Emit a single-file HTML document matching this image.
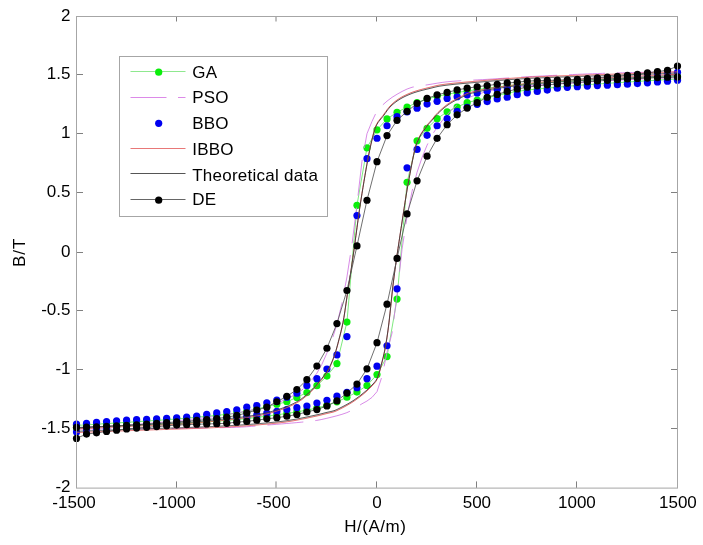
<!DOCTYPE html>
<html><head><meta charset="utf-8"><title>Hysteresis</title>
<style>html,body{margin:0;padding:0;background:#fff;}body{width:703px;height:545px;overflow:hidden;}svg{display:block;will-change:transform;}</style>
</head><body>
<svg width="703" height="545" viewBox="0 0 703 545"><rect x="0" y="0" width="703" height="545" fill="#fff"/><path d="M176.5,487.90v-6.5M176.5,16.50v5M276.0,487.90v-6.5M276.0,16.50v5M376.5,487.90v-6.5M376.5,16.50v5M476.5,487.90v-6.5M476.5,16.50v5M576.5,487.90v-6.5M576.5,16.50v5M76.5,74.5h6.5M677.5,74.5h-6.5M76.5,133.5h6.5M677.5,133.5h-6.5M76.5,192.5h6.5M677.5,192.5h-6.5M76.5,252.5h6.5M677.5,252.5h-6.5M76.5,310.5h6.5M677.5,310.5h-6.5M76.5,369.5h6.5M677.5,369.5h-6.5M76.5,428.5h6.5M677.5,428.5h-6.5" stroke="#808080" stroke-width="1" fill="none"/><path d="M677.50,76.60 L667.48,76.99 L657.47,77.38 L647.45,77.78 L637.43,78.19 L627.42,78.60 L617.40,78.99 L607.38,79.39 L597.37,79.80 L587.35,80.24 L577.33,80.73 L567.32,81.27 L557.30,81.87 L547.28,82.52 L537.27,83.23 L527.25,84.01 L517.23,84.85 L507.22,85.84 L497.20,86.99 L487.18,88.25 L477.17,89.57 L467.15,90.97 L457.13,92.51 L447.12,94.28 L437.10,96.40 L427.08,98.99 L417.07,102.53 L407.05,107.13 L397.03,112.31 L387.02,118.91 L377.00,129.87 L366.98,147.78 L356.97,205.30 L346.95,322.09 L336.93,363.57 L326.92,376.06 L316.90,385.72 L306.88,392.56 L296.87,397.39 L286.85,401.75 L276.83,404.23 L266.82,406.58 L256.80,408.96 L246.78,411.26 L236.77,413.07 L226.75,414.33 L216.73,415.37 L206.72,416.28 L196.70,417.19 L186.68,418.11 L176.67,418.96 L166.65,419.70 L156.63,420.40 L146.62,421.05 L136.60,421.69 L126.58,422.33 L116.57,422.97 L106.55,423.60 L96.53,424.22 L86.52,424.84 L76.50,425.44 L76.50,427.80 L86.52,427.41 L96.53,427.02 L106.55,426.62 L116.57,426.21 L126.58,425.80 L136.60,425.41 L146.62,425.01 L156.63,424.60 L166.65,424.16 L176.67,423.67 L186.68,423.13 L196.70,422.53 L206.72,421.88 L216.73,421.17 L226.75,420.39 L236.77,419.55 L246.78,418.56 L256.80,417.41 L266.82,416.15 L276.83,414.83 L286.85,413.43 L296.87,411.89 L306.88,410.12 L316.90,408.00 L326.92,405.40 L336.93,401.87 L346.95,397.27 L356.97,392.09 L366.98,385.49 L377.00,374.53 L387.02,356.62 L397.03,299.10 L407.05,182.31 L417.07,140.83 L427.08,128.34 L437.10,118.68 L447.12,111.84 L457.13,107.01 L467.15,102.65 L477.17,100.17 L487.18,97.82 L497.20,95.44 L507.22,93.14 L517.23,91.33 L527.25,90.07 L537.27,89.03 L547.28,88.12 L557.30,87.21 L567.32,86.29 L577.33,85.44 L587.35,84.70 L597.37,84.00 L607.38,83.35 L617.40,82.71 L627.42,82.07 L637.43,81.43 L647.45,80.80 L657.47,80.18 L667.48,79.56 L677.50,78.96" stroke="#5de35d" stroke-width="0.8" fill="none" stroke-linejoin="round" opacity="1"/><circle cx="677.50" cy="76.60" r="3.6" fill="#0aee0a"/><circle cx="667.48" cy="76.99" r="3.6" fill="#0aee0a"/><circle cx="657.47" cy="77.38" r="3.6" fill="#0aee0a"/><circle cx="647.45" cy="77.78" r="3.6" fill="#0aee0a"/><circle cx="637.43" cy="78.19" r="3.6" fill="#0aee0a"/><circle cx="627.42" cy="78.60" r="3.6" fill="#0aee0a"/><circle cx="617.40" cy="78.99" r="3.6" fill="#0aee0a"/><circle cx="607.38" cy="79.39" r="3.6" fill="#0aee0a"/><circle cx="597.37" cy="79.80" r="3.6" fill="#0aee0a"/><circle cx="587.35" cy="80.24" r="3.6" fill="#0aee0a"/><circle cx="577.33" cy="80.73" r="3.6" fill="#0aee0a"/><circle cx="567.32" cy="81.27" r="3.6" fill="#0aee0a"/><circle cx="557.30" cy="81.87" r="3.6" fill="#0aee0a"/><circle cx="547.28" cy="82.52" r="3.6" fill="#0aee0a"/><circle cx="537.27" cy="83.23" r="3.6" fill="#0aee0a"/><circle cx="527.25" cy="84.01" r="3.6" fill="#0aee0a"/><circle cx="517.23" cy="84.85" r="3.6" fill="#0aee0a"/><circle cx="507.22" cy="85.84" r="3.6" fill="#0aee0a"/><circle cx="497.20" cy="86.99" r="3.6" fill="#0aee0a"/><circle cx="487.18" cy="88.25" r="3.6" fill="#0aee0a"/><circle cx="477.17" cy="89.57" r="3.6" fill="#0aee0a"/><circle cx="467.15" cy="90.97" r="3.6" fill="#0aee0a"/><circle cx="457.13" cy="92.51" r="3.6" fill="#0aee0a"/><circle cx="447.12" cy="94.28" r="3.6" fill="#0aee0a"/><circle cx="437.10" cy="96.40" r="3.6" fill="#0aee0a"/><circle cx="427.08" cy="98.99" r="3.6" fill="#0aee0a"/><circle cx="417.07" cy="102.53" r="3.6" fill="#0aee0a"/><circle cx="407.05" cy="107.13" r="3.6" fill="#0aee0a"/><circle cx="397.03" cy="112.31" r="3.6" fill="#0aee0a"/><circle cx="387.02" cy="118.91" r="3.6" fill="#0aee0a"/><circle cx="377.00" cy="129.87" r="3.6" fill="#0aee0a"/><circle cx="366.98" cy="147.78" r="3.6" fill="#0aee0a"/><circle cx="356.97" cy="205.30" r="3.6" fill="#0aee0a"/><circle cx="346.95" cy="322.09" r="3.6" fill="#0aee0a"/><circle cx="336.93" cy="363.57" r="3.6" fill="#0aee0a"/><circle cx="326.92" cy="376.06" r="3.6" fill="#0aee0a"/><circle cx="316.90" cy="385.72" r="3.6" fill="#0aee0a"/><circle cx="306.88" cy="392.56" r="3.6" fill="#0aee0a"/><circle cx="296.87" cy="397.39" r="3.6" fill="#0aee0a"/><circle cx="286.85" cy="401.75" r="3.6" fill="#0aee0a"/><circle cx="276.83" cy="404.23" r="3.6" fill="#0aee0a"/><circle cx="266.82" cy="406.58" r="3.6" fill="#0aee0a"/><circle cx="256.80" cy="408.96" r="3.6" fill="#0aee0a"/><circle cx="246.78" cy="411.26" r="3.6" fill="#0aee0a"/><circle cx="236.77" cy="413.07" r="3.6" fill="#0aee0a"/><circle cx="226.75" cy="414.33" r="3.6" fill="#0aee0a"/><circle cx="216.73" cy="415.37" r="3.6" fill="#0aee0a"/><circle cx="206.72" cy="416.28" r="3.6" fill="#0aee0a"/><circle cx="196.70" cy="417.19" r="3.6" fill="#0aee0a"/><circle cx="186.68" cy="418.11" r="3.6" fill="#0aee0a"/><circle cx="176.67" cy="418.96" r="3.6" fill="#0aee0a"/><circle cx="166.65" cy="419.70" r="3.6" fill="#0aee0a"/><circle cx="156.63" cy="420.40" r="3.6" fill="#0aee0a"/><circle cx="146.62" cy="421.05" r="3.6" fill="#0aee0a"/><circle cx="136.60" cy="421.69" r="3.6" fill="#0aee0a"/><circle cx="126.58" cy="422.33" r="3.6" fill="#0aee0a"/><circle cx="116.57" cy="422.97" r="3.6" fill="#0aee0a"/><circle cx="106.55" cy="423.60" r="3.6" fill="#0aee0a"/><circle cx="96.53" cy="424.22" r="3.6" fill="#0aee0a"/><circle cx="86.52" cy="424.84" r="3.6" fill="#0aee0a"/><circle cx="76.50" cy="425.44" r="3.6" fill="#0aee0a"/><circle cx="76.50" cy="427.80" r="3.6" fill="#0aee0a"/><circle cx="86.52" cy="427.41" r="3.6" fill="#0aee0a"/><circle cx="96.53" cy="427.02" r="3.6" fill="#0aee0a"/><circle cx="106.55" cy="426.62" r="3.6" fill="#0aee0a"/><circle cx="116.57" cy="426.21" r="3.6" fill="#0aee0a"/><circle cx="126.58" cy="425.80" r="3.6" fill="#0aee0a"/><circle cx="136.60" cy="425.41" r="3.6" fill="#0aee0a"/><circle cx="146.62" cy="425.01" r="3.6" fill="#0aee0a"/><circle cx="156.63" cy="424.60" r="3.6" fill="#0aee0a"/><circle cx="166.65" cy="424.16" r="3.6" fill="#0aee0a"/><circle cx="176.67" cy="423.67" r="3.6" fill="#0aee0a"/><circle cx="186.68" cy="423.13" r="3.6" fill="#0aee0a"/><circle cx="196.70" cy="422.53" r="3.6" fill="#0aee0a"/><circle cx="206.72" cy="421.88" r="3.6" fill="#0aee0a"/><circle cx="216.73" cy="421.17" r="3.6" fill="#0aee0a"/><circle cx="226.75" cy="420.39" r="3.6" fill="#0aee0a"/><circle cx="236.77" cy="419.55" r="3.6" fill="#0aee0a"/><circle cx="246.78" cy="418.56" r="3.6" fill="#0aee0a"/><circle cx="256.80" cy="417.41" r="3.6" fill="#0aee0a"/><circle cx="266.82" cy="416.15" r="3.6" fill="#0aee0a"/><circle cx="276.83" cy="414.83" r="3.6" fill="#0aee0a"/><circle cx="286.85" cy="413.43" r="3.6" fill="#0aee0a"/><circle cx="296.87" cy="411.89" r="3.6" fill="#0aee0a"/><circle cx="306.88" cy="410.12" r="3.6" fill="#0aee0a"/><circle cx="316.90" cy="408.00" r="3.6" fill="#0aee0a"/><circle cx="326.92" cy="405.40" r="3.6" fill="#0aee0a"/><circle cx="336.93" cy="401.87" r="3.6" fill="#0aee0a"/><circle cx="346.95" cy="397.27" r="3.6" fill="#0aee0a"/><circle cx="356.97" cy="392.09" r="3.6" fill="#0aee0a"/><circle cx="366.98" cy="385.49" r="3.6" fill="#0aee0a"/><circle cx="377.00" cy="374.53" r="3.6" fill="#0aee0a"/><circle cx="387.02" cy="356.62" r="3.6" fill="#0aee0a"/><circle cx="397.03" cy="299.10" r="3.6" fill="#0aee0a"/><circle cx="407.05" cy="182.31" r="3.6" fill="#0aee0a"/><circle cx="417.07" cy="140.83" r="3.6" fill="#0aee0a"/><circle cx="427.08" cy="128.34" r="3.6" fill="#0aee0a"/><circle cx="437.10" cy="118.68" r="3.6" fill="#0aee0a"/><circle cx="447.12" cy="111.84" r="3.6" fill="#0aee0a"/><circle cx="457.13" cy="107.01" r="3.6" fill="#0aee0a"/><circle cx="467.15" cy="102.65" r="3.6" fill="#0aee0a"/><circle cx="477.17" cy="100.17" r="3.6" fill="#0aee0a"/><circle cx="487.18" cy="97.82" r="3.6" fill="#0aee0a"/><circle cx="497.20" cy="95.44" r="3.6" fill="#0aee0a"/><circle cx="507.22" cy="93.14" r="3.6" fill="#0aee0a"/><circle cx="517.23" cy="91.33" r="3.6" fill="#0aee0a"/><circle cx="527.25" cy="90.07" r="3.6" fill="#0aee0a"/><circle cx="537.27" cy="89.03" r="3.6" fill="#0aee0a"/><circle cx="547.28" cy="88.12" r="3.6" fill="#0aee0a"/><circle cx="557.30" cy="87.21" r="3.6" fill="#0aee0a"/><circle cx="567.32" cy="86.29" r="3.6" fill="#0aee0a"/><circle cx="577.33" cy="85.44" r="3.6" fill="#0aee0a"/><circle cx="587.35" cy="84.70" r="3.6" fill="#0aee0a"/><circle cx="597.37" cy="84.00" r="3.6" fill="#0aee0a"/><circle cx="607.38" cy="83.35" r="3.6" fill="#0aee0a"/><circle cx="617.40" cy="82.71" r="3.6" fill="#0aee0a"/><circle cx="627.42" cy="82.07" r="3.6" fill="#0aee0a"/><circle cx="637.43" cy="81.43" r="3.6" fill="#0aee0a"/><circle cx="647.45" cy="80.80" r="3.6" fill="#0aee0a"/><circle cx="657.47" cy="80.18" r="3.6" fill="#0aee0a"/><circle cx="667.48" cy="79.56" r="3.6" fill="#0aee0a"/><circle cx="677.50" cy="78.96" r="3.6" fill="#0aee0a"/><path stroke-dashoffset="23.6" d="M677.50,71.89 L672.49,71.93 L667.48,71.98 L662.48,72.04 L657.47,72.11 L652.46,72.18 L647.45,72.26 L642.44,72.35 L637.43,72.45 L632.42,72.55 L627.42,72.65 L622.41,72.77 L617.40,72.90 L612.39,73.04 L607.38,73.20 L602.38,73.36 L597.37,73.54 L592.36,73.73 L587.35,73.92 L582.34,74.13 L577.33,74.34 L572.33,74.56 L567.32,74.78 L562.31,75.02 L557.30,75.25 L552.29,75.49 L547.28,75.74 L542.27,75.99 L537.27,76.24 L532.26,76.49 L527.25,76.75 L522.24,77.04 L517.23,77.35 L512.23,77.67 L507.22,78.01 L502.21,78.35 L497.20,78.69 L492.19,79.03 L487.18,79.35 L482.18,79.64 L477.17,79.90 L472.16,80.15 L467.15,80.40 L462.14,80.67 L457.13,80.98 L452.12,81.34 L447.12,81.79 L442.11,82.43 L437.10,83.21 L432.09,84.05 L427.08,84.87 L422.07,85.58 L417.07,86.27 L412.06,87.27 L407.05,89.04 L402.04,91.46 L397.03,94.28 L392.02,97.37 L387.02,101.14 L382.01,105.57 L377.00,110.89 L371.99,121.44 L366.98,133.72 L361.98,161.19 L356.97,204.71 L351.96,244.49 L346.95,276.94 L341.94,303.30 L336.93,324.32 L331.93,340.12 L326.92,353.09 L321.91,364.29 L316.90,373.20 L311.89,379.80 L306.88,385.46 L301.88,390.10 L296.87,393.62 L291.86,396.40 L286.85,398.89 L281.84,401.11 L276.83,403.09 L271.82,404.84 L266.82,406.39 L261.81,407.75 L256.80,408.94 L251.79,410.03 L246.78,411.05 L241.78,412.02 L236.77,412.94 L231.76,413.80 L226.75,414.61 L221.74,415.38 L216.73,416.10 L211.72,416.79 L206.72,417.44 L201.71,418.05 L196.70,418.63 L191.69,419.19 L186.68,419.72 L181.68,420.23 L176.67,420.73 L171.66,421.21 L166.65,421.68 L161.64,422.15 L156.63,422.61 L151.62,423.06 L146.62,423.50 L141.61,423.93 L136.60,424.34 L131.59,424.74 L126.58,425.12 L121.58,425.48 L116.57,425.83 L111.56,426.16 L106.55,426.47 L101.54,426.75 L96.53,427.01 L91.53,427.25 L86.52,427.46 L81.51,427.64 L76.50,427.80" stroke="#d47ee4" stroke-width="0.9" fill="none" stroke-linejoin="round" stroke-dasharray="36 12" opacity="1"/><path stroke-dashoffset="0.93" d="M76.50,428.97 L81.51,428.97 L86.52,428.97 L91.53,428.96 L96.53,428.95 L101.54,428.94 L106.55,428.92 L111.56,428.90 L116.57,428.88 L121.58,428.86 L126.58,428.83 L131.59,428.79 L136.60,428.76 L141.61,428.72 L146.62,428.68 L151.62,428.64 L156.63,428.59 L161.64,428.54 L166.65,428.48 L171.66,428.43 L176.67,428.36 L181.68,428.30 L186.68,428.23 L191.69,428.16 L196.70,428.09 L201.71,428.01 L206.72,427.93 L211.72,427.84 L216.73,427.75 L221.74,427.66 L226.75,427.56 L231.76,427.46 L236.77,427.32 L241.78,427.07 L246.78,426.74 L251.79,426.35 L256.80,425.93 L261.81,425.49 L266.82,425.08 L271.82,424.69 L276.83,424.30 L281.84,423.90 L286.85,423.48 L291.86,423.05 L296.87,422.60 L301.88,422.12 L306.88,421.62 L311.89,421.08 L316.90,420.39 L321.91,419.43 L326.92,418.28 L331.93,417.05 L336.93,415.77 L341.94,414.34 L346.95,412.62 L351.96,410.31 L356.97,406.95 L361.98,403.79 L366.98,401.04 L371.99,397.40 L377.00,391.65 L382.01,376.37 L387.02,352.37 L392.02,333.09 L397.03,295.03 L402.04,249.31 L407.05,216.77 L412.06,191.33 L417.07,172.27 L422.07,157.42 L427.08,145.16 L432.09,135.00 L437.10,127.29 L442.11,120.82 L447.12,114.84 L452.12,109.35 L457.13,104.89 L462.14,101.37 L467.15,98.45 L472.16,96.26 L477.17,94.47 L482.18,92.89 L487.18,91.54 L492.19,90.43 L497.20,89.57 L502.21,88.86 L507.22,88.21 L512.23,87.61 L517.23,87.05 L522.24,86.54 L527.25,86.06 L532.26,85.61 L537.27,85.19 L542.27,84.80 L547.28,84.44 L552.29,84.09 L557.30,83.75 L562.31,83.43 L567.32,83.12 L572.33,82.81 L577.33,82.50 L582.34,82.19 L587.35,81.88 L592.36,81.58 L597.37,81.29 L602.38,81.00 L607.38,80.72 L612.39,80.44 L617.40,80.17 L622.41,79.91 L627.42,79.66 L632.42,79.42 L637.43,79.19 L642.44,78.97 L647.45,78.76 L652.46,78.57 L657.47,78.38 L662.48,78.21 L667.48,78.05 L672.49,77.91 L677.50,77.78" stroke="#d47ee4" stroke-width="0.9" fill="none" stroke-linejoin="round" stroke-dasharray="36 12" opacity="1"/><circle cx="677.50" cy="72.36" r="3.6" fill="#0000f0"/><circle cx="667.48" cy="73.57" r="3.6" fill="#0000f0"/><circle cx="657.47" cy="74.73" r="3.6" fill="#0000f0"/><circle cx="647.45" cy="75.85" r="3.6" fill="#0000f0"/><circle cx="637.43" cy="76.93" r="3.6" fill="#0000f0"/><circle cx="627.42" cy="77.97" r="3.6" fill="#0000f0"/><circle cx="617.40" cy="78.96" r="3.6" fill="#0000f0"/><circle cx="607.38" cy="79.91" r="3.6" fill="#0000f0"/><circle cx="597.37" cy="80.81" r="3.6" fill="#0000f0"/><circle cx="587.35" cy="81.67" r="3.6" fill="#0000f0"/><circle cx="577.33" cy="82.50" r="3.6" fill="#0000f0"/><circle cx="567.32" cy="83.27" r="3.6" fill="#0000f0"/><circle cx="557.30" cy="83.99" r="3.6" fill="#0000f0"/><circle cx="547.28" cy="84.70" r="3.6" fill="#0000f0"/><circle cx="537.27" cy="85.44" r="3.6" fill="#0000f0"/><circle cx="527.25" cy="86.14" r="3.6" fill="#0000f0"/><circle cx="517.23" cy="86.85" r="3.6" fill="#0000f0"/><circle cx="507.22" cy="87.80" r="3.6" fill="#0000f0"/><circle cx="497.20" cy="89.45" r="3.6" fill="#0000f0"/><circle cx="487.18" cy="91.22" r="3.6" fill="#0000f0"/><circle cx="477.17" cy="92.98" r="3.6" fill="#0000f0"/><circle cx="467.15" cy="94.87" r="3.6" fill="#0000f0"/><circle cx="457.13" cy="96.76" r="3.6" fill="#0000f0"/><circle cx="447.12" cy="98.41" r="3.6" fill="#0000f0"/><circle cx="437.10" cy="101.35" r="3.6" fill="#0000f0"/><circle cx="427.08" cy="104.06" r="3.6" fill="#0000f0"/><circle cx="417.07" cy="108.19" r="3.6" fill="#0000f0"/><circle cx="407.05" cy="111.97" r="3.6" fill="#0000f0"/><circle cx="397.03" cy="116.67" r="3.6" fill="#0000f0"/><circle cx="387.02" cy="125.75" r="3.6" fill="#0000f0"/><circle cx="377.00" cy="138.24" r="3.6" fill="#0000f0"/><circle cx="366.98" cy="158.63" r="3.6" fill="#0000f0"/><circle cx="356.97" cy="215.55" r="3.6" fill="#0000f0"/><circle cx="346.95" cy="336.58" r="3.6" fill="#0000f0"/><circle cx="336.93" cy="354.97" r="3.6" fill="#0000f0"/><circle cx="326.92" cy="369.11" r="3.6" fill="#0000f0"/><circle cx="316.90" cy="378.65" r="3.6" fill="#0000f0"/><circle cx="306.88" cy="385.72" r="3.6" fill="#0000f0"/><circle cx="296.87" cy="393.15" r="3.6" fill="#0000f0"/><circle cx="286.85" cy="397.16" r="3.6" fill="#0000f0"/><circle cx="276.83" cy="400.10" r="3.6" fill="#0000f0"/><circle cx="266.82" cy="402.81" r="3.6" fill="#0000f0"/><circle cx="256.80" cy="405.52" r="3.6" fill="#0000f0"/><circle cx="246.78" cy="407.17" r="3.6" fill="#0000f0"/><circle cx="236.77" cy="409.77" r="3.6" fill="#0000f0"/><circle cx="226.75" cy="411.53" r="3.6" fill="#0000f0"/><circle cx="216.73" cy="412.95" r="3.6" fill="#0000f0"/><circle cx="206.72" cy="414.36" r="3.6" fill="#0000f0"/><circle cx="196.70" cy="416.13" r="3.6" fill="#0000f0"/><circle cx="186.68" cy="417.03" r="3.6" fill="#0000f0"/><circle cx="176.67" cy="417.75" r="3.6" fill="#0000f0"/><circle cx="166.65" cy="418.32" r="3.6" fill="#0000f0"/><circle cx="156.63" cy="418.80" r="3.6" fill="#0000f0"/><circle cx="146.62" cy="419.25" r="3.6" fill="#0000f0"/><circle cx="136.60" cy="419.70" r="3.6" fill="#0000f0"/><circle cx="126.58" cy="420.22" r="3.6" fill="#0000f0"/><circle cx="116.57" cy="420.84" r="3.6" fill="#0000f0"/><circle cx="106.55" cy="421.58" r="3.6" fill="#0000f0"/><circle cx="96.53" cy="422.39" r="3.6" fill="#0000f0"/><circle cx="86.52" cy="423.25" r="3.6" fill="#0000f0"/><circle cx="76.50" cy="424.14" r="3.6" fill="#0000f0"/><circle cx="76.50" cy="432.04" r="3.6" fill="#0000f0"/><circle cx="86.52" cy="430.83" r="3.6" fill="#0000f0"/><circle cx="96.53" cy="429.67" r="3.6" fill="#0000f0"/><circle cx="106.55" cy="428.55" r="3.6" fill="#0000f0"/><circle cx="116.57" cy="427.47" r="3.6" fill="#0000f0"/><circle cx="126.58" cy="426.43" r="3.6" fill="#0000f0"/><circle cx="136.60" cy="425.44" r="3.6" fill="#0000f0"/><circle cx="146.62" cy="424.49" r="3.6" fill="#0000f0"/><circle cx="156.63" cy="423.59" r="3.6" fill="#0000f0"/><circle cx="166.65" cy="422.73" r="3.6" fill="#0000f0"/><circle cx="176.67" cy="421.90" r="3.6" fill="#0000f0"/><circle cx="186.68" cy="421.13" r="3.6" fill="#0000f0"/><circle cx="196.70" cy="420.41" r="3.6" fill="#0000f0"/><circle cx="206.72" cy="419.70" r="3.6" fill="#0000f0"/><circle cx="216.73" cy="418.96" r="3.6" fill="#0000f0"/><circle cx="226.75" cy="418.26" r="3.6" fill="#0000f0"/><circle cx="236.77" cy="417.55" r="3.6" fill="#0000f0"/><circle cx="246.78" cy="416.60" r="3.6" fill="#0000f0"/><circle cx="256.80" cy="414.95" r="3.6" fill="#0000f0"/><circle cx="266.82" cy="413.18" r="3.6" fill="#0000f0"/><circle cx="276.83" cy="411.42" r="3.6" fill="#0000f0"/><circle cx="286.85" cy="409.53" r="3.6" fill="#0000f0"/><circle cx="296.87" cy="407.64" r="3.6" fill="#0000f0"/><circle cx="306.88" cy="405.99" r="3.6" fill="#0000f0"/><circle cx="316.90" cy="403.05" r="3.6" fill="#0000f0"/><circle cx="326.92" cy="400.34" r="3.6" fill="#0000f0"/><circle cx="336.93" cy="396.21" r="3.6" fill="#0000f0"/><circle cx="346.95" cy="392.43" r="3.6" fill="#0000f0"/><circle cx="356.97" cy="387.73" r="3.6" fill="#0000f0"/><circle cx="366.98" cy="378.65" r="3.6" fill="#0000f0"/><circle cx="377.00" cy="366.16" r="3.6" fill="#0000f0"/><circle cx="387.02" cy="345.77" r="3.6" fill="#0000f0"/><circle cx="397.03" cy="288.85" r="3.6" fill="#0000f0"/><circle cx="407.05" cy="167.82" r="3.6" fill="#0000f0"/><circle cx="417.07" cy="149.43" r="3.6" fill="#0000f0"/><circle cx="427.08" cy="135.29" r="3.6" fill="#0000f0"/><circle cx="437.10" cy="125.75" r="3.6" fill="#0000f0"/><circle cx="447.12" cy="118.68" r="3.6" fill="#0000f0"/><circle cx="457.13" cy="111.25" r="3.6" fill="#0000f0"/><circle cx="467.15" cy="107.24" r="3.6" fill="#0000f0"/><circle cx="477.17" cy="104.30" r="3.6" fill="#0000f0"/><circle cx="487.18" cy="101.59" r="3.6" fill="#0000f0"/><circle cx="497.20" cy="98.88" r="3.6" fill="#0000f0"/><circle cx="507.22" cy="97.23" r="3.6" fill="#0000f0"/><circle cx="517.23" cy="94.63" r="3.6" fill="#0000f0"/><circle cx="527.25" cy="92.87" r="3.6" fill="#0000f0"/><circle cx="537.27" cy="91.45" r="3.6" fill="#0000f0"/><circle cx="547.28" cy="90.04" r="3.6" fill="#0000f0"/><circle cx="557.30" cy="88.27" r="3.6" fill="#0000f0"/><circle cx="567.32" cy="87.37" r="3.6" fill="#0000f0"/><circle cx="577.33" cy="86.65" r="3.6" fill="#0000f0"/><circle cx="587.35" cy="86.08" r="3.6" fill="#0000f0"/><circle cx="597.37" cy="85.60" r="3.6" fill="#0000f0"/><circle cx="607.38" cy="85.15" r="3.6" fill="#0000f0"/><circle cx="617.40" cy="84.70" r="3.6" fill="#0000f0"/><circle cx="627.42" cy="84.18" r="3.6" fill="#0000f0"/><circle cx="637.43" cy="83.56" r="3.6" fill="#0000f0"/><circle cx="647.45" cy="82.82" r="3.6" fill="#0000f0"/><circle cx="657.47" cy="82.01" r="3.6" fill="#0000f0"/><circle cx="667.48" cy="81.15" r="3.6" fill="#0000f0"/><circle cx="677.50" cy="80.26" r="3.6" fill="#0000f0"/><path d="M677.50,71.81 L676.50,71.85 L675.50,71.89 L674.50,71.93 L673.49,71.97 L672.49,72.00 L671.49,72.04 L670.49,72.08 L669.49,72.12 L668.49,72.16 L667.48,72.19 L666.48,72.23 L665.48,72.27 L664.48,72.31 L663.48,72.35 L662.48,72.38 L661.47,72.42 L660.47,72.46 L659.47,72.50 L658.47,72.54 L657.47,72.57 L656.47,72.61 L655.46,72.65 L654.46,72.69 L653.46,72.72 L652.46,72.76 L651.46,72.80 L650.46,72.84 L649.45,72.87 L648.45,72.91 L647.45,72.95 L646.45,72.99 L645.45,73.02 L644.45,73.06 L643.44,73.10 L642.44,73.14 L641.44,73.17 L640.44,73.21 L639.44,73.25 L638.43,73.28 L637.43,73.32 L636.43,73.36 L635.43,73.40 L634.43,73.43 L633.43,73.47 L632.42,73.51 L631.42,73.54 L630.42,73.58 L629.42,73.62 L628.42,73.65 L627.42,73.69 L626.41,73.72 L625.41,73.76 L624.41,73.79 L623.41,73.83 L622.41,73.86 L621.41,73.90 L620.40,73.93 L619.40,73.97 L618.40,74.00 L617.40,74.03 L616.40,74.07 L615.40,74.10 L614.39,74.13 L613.39,74.16 L612.39,74.20 L611.39,74.23 L610.39,74.26 L609.39,74.29 L608.38,74.33 L607.38,74.36 L606.38,74.39 L605.38,74.42 L604.38,74.45 L603.38,74.48 L602.38,74.51 L601.37,74.54 L600.37,74.58 L599.37,74.61 L598.37,74.64 L597.37,74.67 L596.37,74.70 L595.36,74.73 L594.36,74.76 L593.36,74.79 L592.36,74.82 L591.36,74.85 L590.36,74.88 L589.35,74.92 L588.35,74.95 L587.35,74.98 L586.35,75.01 L585.35,75.04 L584.35,75.07 L583.34,75.10 L582.34,75.13 L581.34,75.16 L580.34,75.20 L579.34,75.23 L578.34,75.26 L577.33,75.29 L576.33,75.32 L575.33,75.36 L574.33,75.39 L573.33,75.42 L572.33,75.46 L571.32,75.49 L570.32,75.52 L569.32,75.56 L568.32,75.59 L567.32,75.62 L566.32,75.66 L565.31,75.69 L564.31,75.73 L563.31,75.76 L562.31,75.80 L561.31,75.83 L560.31,75.87 L559.30,75.91 L558.30,75.94 L557.30,75.98 L556.30,76.02 L555.30,76.06 L554.30,76.09 L553.29,76.13 L552.29,76.17 L551.29,76.21 L550.29,76.25 L549.29,76.29 L548.29,76.33 L547.28,76.37 L546.28,76.41 L545.28,76.46 L544.28,76.50 L543.28,76.54 L542.27,76.58 L541.27,76.63 L540.27,76.67 L539.27,76.72 L538.27,76.76 L537.27,76.81 L536.26,76.85 L535.26,76.90 L534.26,76.95 L533.26,77.00 L532.26,77.05 L531.26,77.09 L530.25,77.14 L529.25,77.20 L528.25,77.25 L527.25,77.30 L526.25,77.35 L525.25,77.41 L524.25,77.47 L523.24,77.53 L522.24,77.59 L521.24,77.65 L520.24,77.71 L519.24,77.77 L518.24,77.84 L517.23,77.90 L516.23,77.97 L515.23,78.03 L514.23,78.10 L513.23,78.17 L512.23,78.24 L511.22,78.31 L510.22,78.39 L509.22,78.46 L508.22,78.53 L507.22,78.61 L506.21,78.68 L505.21,78.76 L504.21,78.84 L503.21,78.91 L502.21,78.99 L501.21,79.07 L500.20,79.15 L499.20,79.23 L498.20,79.31 L497.20,79.39 L496.20,79.48 L495.20,79.56 L494.19,79.64 L493.19,79.73 L492.19,79.81 L491.19,79.90 L490.19,79.98 L489.19,80.07 L488.19,80.15 L487.18,80.24 L486.18,80.32 L485.18,80.41 L484.18,80.50 L483.18,80.59 L482.18,80.67 L481.17,80.76 L480.17,80.85 L479.17,80.94 L478.17,81.03 L477.17,81.11 L476.17,81.20 L475.16,81.29 L474.16,81.38 L473.16,81.47 L472.16,81.55 L471.16,81.64 L470.15,81.72 L469.15,81.81 L468.15,81.89 L467.15,81.98 L466.15,82.06 L465.15,82.15 L464.14,82.23 L463.14,82.32 L462.14,82.41 L461.14,82.50 L460.14,82.59 L459.14,82.68 L458.13,82.77 L457.13,82.87 L456.13,82.97 L455.13,83.07 L454.13,83.17 L453.13,83.27 L452.12,83.38 L451.12,83.49 L450.12,83.60 L449.12,83.72 L448.12,83.84 L447.12,83.96 L446.12,84.08 L445.11,84.21 L444.11,84.35 L443.11,84.49 L442.11,84.63 L441.11,84.78 L440.11,84.93 L439.10,85.11 L438.10,85.30 L437.10,85.51 L436.10,85.74 L435.10,85.98 L434.10,86.23 L433.09,86.48 L432.09,86.74 L431.09,86.99 L430.09,87.24 L429.09,87.49 L428.08,87.73 L427.08,87.98 L426.08,88.23 L425.08,88.48 L424.08,88.73 L423.08,88.99 L422.07,89.25 L421.07,89.52 L420.07,89.79 L419.07,90.07 L418.07,90.36 L417.07,90.66 L416.06,90.96 L415.06,91.28 L414.06,91.61 L413.06,91.96 L412.06,92.33 L411.06,92.71 L410.06,93.11 L409.05,93.53 L408.05,93.96 L407.05,94.40 L406.05,94.86 L405.05,95.33 L404.05,95.83 L403.04,96.34 L402.04,96.88 L401.04,97.45 L400.04,98.04 L399.04,98.67 L398.04,99.33 L397.03,100.02 L396.03,100.74 L395.03,101.51 L394.03,102.32 L393.03,103.17 L392.02,104.06 L391.02,105.01 L390.02,106.02 L389.02,107.18 L388.02,108.45 L387.02,109.81 L386.01,111.22 L385.01,112.65 L384.01,114.06 L383.01,115.43 L382.01,116.68 L381.01,117.87 L380.00,119.07 L379.00,120.34 L378.00,121.77 L377.00,123.41 L376.00,125.34 L375.00,127.91 L374.00,131.27 L372.99,135.13 L371.99,139.22 L370.99,143.51 L369.99,148.12 L368.99,153.04 L367.99,158.23 L366.98,163.66 L365.98,169.31 L364.98,175.13 L363.98,181.10 L362.98,187.20 L361.98,193.38 L360.97,199.63 L359.97,206.13 L358.97,213.04 L357.97,220.26 L356.97,227.67 L355.96,235.18 L354.96,242.68 L353.96,250.07 L352.96,257.25 L351.96,264.14 L350.96,270.89 L349.95,277.53 L348.95,284.13 L347.95,290.70 L346.95,297.30 L345.95,304.17 L344.95,311.16 L343.94,317.64 L342.94,323.08 L341.94,327.81 L340.94,332.10 L339.94,336.12 L338.94,340.02 L337.94,343.91 L336.93,347.70 L335.93,351.28 L334.93,354.51 L333.93,357.36 L332.93,360.03 L331.93,362.54 L330.92,364.89 L329.92,367.06 L328.92,369.06 L327.92,370.87 L326.92,372.51 L325.91,373.99 L324.91,375.36 L323.91,376.65 L322.91,377.91 L321.91,379.18 L320.91,380.47 L319.90,381.74 L318.90,383.01 L317.90,384.25 L316.90,385.46 L315.90,386.63 L314.90,387.77 L313.89,388.84 L312.89,389.86 L311.89,390.84 L310.89,391.81 L309.89,392.76 L308.89,393.70 L307.88,394.61 L306.88,395.51 L305.88,396.37 L304.88,397.22 L303.88,398.03 L302.88,398.82 L301.88,399.57 L300.87,400.28 L299.87,400.96 L298.87,401.61 L297.87,402.21 L296.87,402.77 L295.87,403.33 L294.86,403.86 L293.86,404.38 L292.86,404.88 L291.86,405.36 L290.86,405.83 L289.86,406.28 L288.85,406.72 L287.85,407.15 L286.85,407.56 L285.85,407.96 L284.85,408.34 L283.85,408.72 L282.84,409.08 L281.84,409.43 L280.84,409.77 L279.84,410.10 L278.84,410.43 L277.84,410.74 L276.83,411.06 L275.83,411.36 L274.83,411.66 L273.83,411.96 L272.83,412.25 L271.82,412.53 L270.82,412.81 L269.82,413.07 L268.82,413.34 L267.82,413.60 L266.82,413.85 L265.81,414.09 L264.81,414.33 L263.81,414.56 L262.81,414.78 L261.81,415.00 L260.81,415.21 L259.81,415.41 L258.80,415.60 L257.80,415.79 L256.80,415.97 L255.80,416.15 L254.80,416.32 L253.79,416.49 L252.79,416.65 L251.79,416.81 L250.79,416.97 L249.79,417.12 L248.79,417.28 L247.78,417.43 L246.78,417.57 L245.78,417.72 L244.78,417.86 L243.78,418.00 L242.78,418.13 L241.78,418.26 L240.77,418.40 L239.77,418.52 L238.77,418.65 L237.77,418.78 L236.77,418.90 L235.76,419.02 L234.76,419.14 L233.76,419.26 L232.76,419.37 L231.76,419.49 L230.76,419.60 L229.75,419.71 L228.75,419.82 L227.75,419.93 L226.75,420.03 L225.75,420.14 L224.75,420.25 L223.75,420.35 L222.74,420.45 L221.74,420.56 L220.74,420.66 L219.74,420.76 L218.74,420.86 L217.74,420.96 L216.73,421.06 L215.73,421.16 L214.73,421.25 L213.73,421.35 L212.73,421.45 L211.72,421.54 L210.72,421.64 L209.72,421.73 L208.72,421.82 L207.72,421.92 L206.72,422.01 L205.72,422.10 L204.71,422.19 L203.71,422.27 L202.71,422.36 L201.71,422.45 L200.71,422.53 L199.70,422.62 L198.70,422.70 L197.70,422.79 L196.70,422.87 L195.70,422.95 L194.70,423.03 L193.69,423.11 L192.69,423.19 L191.69,423.26 L190.69,423.34 L189.69,423.41 L188.69,423.49 L187.69,423.56 L186.68,423.63 L185.68,423.70 L184.68,423.77 L183.68,423.84 L182.68,423.90 L181.68,423.97 L180.67,424.03 L179.67,424.10 L178.67,424.16 L177.67,424.22 L176.67,424.28 L175.67,424.34 L174.66,424.39 L173.66,424.45 L172.66,424.51 L171.66,424.56 L170.66,424.61 L169.66,424.66 L168.65,424.72 L167.65,424.77 L166.65,424.82 L165.65,424.86 L164.65,424.91 L163.64,424.96 L162.64,425.01 L161.64,425.05 L160.64,425.10 L159.64,425.14 L158.64,425.19 L157.63,425.23 L156.63,425.27 L155.63,425.32 L154.63,425.36 L153.63,425.40 L152.63,425.44 L151.62,425.49 L150.62,425.53 L149.62,425.57 L148.62,425.61 L147.62,425.65 L146.62,425.69 L145.62,425.73 L144.61,425.77 L143.61,425.81 L142.61,425.85 L141.61,425.89 L140.61,425.93 L139.60,425.97 L138.60,426.02 L137.60,426.06 L136.60,426.10 L135.60,426.14 L134.60,426.18 L133.59,426.22 L132.59,426.27 L131.59,426.31 L130.59,426.35 L129.59,426.40 L128.59,426.44 L127.59,426.49 L126.58,426.53 L125.58,426.58 L124.58,426.62 L123.58,426.67 L122.58,426.72 L121.58,426.77 L120.57,426.81 L119.57,426.86 L118.57,426.91 L117.57,426.96 L116.57,427.01 L115.56,427.06 L114.56,427.10 L113.56,427.15 L112.56,427.20 L111.56,427.25 L110.56,427.30 L109.56,427.35 L108.55,427.40 L107.55,427.45 L106.55,427.50 L105.55,427.55 L104.55,427.60 L103.55,427.64 L102.54,427.69 L101.54,427.74 L100.54,427.79 L99.54,427.84 L98.54,427.90 L97.53,427.95 L96.53,428.00 L95.53,428.05 L94.53,428.10 L93.53,428.15 L92.53,428.20 L91.53,428.25 L90.52,428.30 L89.52,428.35 L88.52,428.40 L87.52,428.45 L86.52,428.51 L85.52,428.56 L84.51,428.61 L83.51,428.66 L82.51,428.71 L81.51,428.76 L80.51,428.82 L79.50,428.87 L78.50,428.92 L77.50,428.97 L76.50,429.03 L76.50,432.59 L77.50,432.55 L78.50,432.51 L79.50,432.47 L80.51,432.43 L81.51,432.40 L82.51,432.36 L83.51,432.32 L84.51,432.28 L85.52,432.24 L86.52,432.21 L87.52,432.17 L88.52,432.13 L89.52,432.09 L90.52,432.05 L91.53,432.02 L92.53,431.98 L93.53,431.94 L94.53,431.90 L95.53,431.86 L96.53,431.83 L97.53,431.79 L98.54,431.75 L99.54,431.71 L100.54,431.68 L101.54,431.64 L102.54,431.60 L103.55,431.56 L104.55,431.53 L105.55,431.49 L106.55,431.45 L107.55,431.41 L108.55,431.38 L109.56,431.34 L110.56,431.30 L111.56,431.26 L112.56,431.23 L113.56,431.19 L114.56,431.15 L115.56,431.12 L116.57,431.08 L117.57,431.04 L118.57,431.01 L119.57,430.97 L120.57,430.93 L121.58,430.89 L122.58,430.86 L123.58,430.82 L124.58,430.78 L125.58,430.75 L126.58,430.71 L127.59,430.68 L128.59,430.64 L129.59,430.60 L130.59,430.57 L131.59,430.54 L132.59,430.50 L133.59,430.47 L134.60,430.43 L135.60,430.40 L136.60,430.37 L137.60,430.33 L138.60,430.30 L139.60,430.27 L140.61,430.23 L141.61,430.20 L142.61,430.17 L143.61,430.14 L144.61,430.11 L145.62,430.07 L146.62,430.04 L147.62,430.01 L148.62,429.98 L149.62,429.95 L150.62,429.92 L151.62,429.89 L152.63,429.85 L153.63,429.82 L154.63,429.79 L155.63,429.76 L156.63,429.73 L157.63,429.70 L158.64,429.67 L159.64,429.64 L160.64,429.61 L161.64,429.58 L162.64,429.54 L163.64,429.51 L164.65,429.48 L165.65,429.45 L166.65,429.42 L167.65,429.39 L168.65,429.36 L169.66,429.33 L170.66,429.29 L171.66,429.26 L172.66,429.23 L173.66,429.20 L174.66,429.17 L175.67,429.13 L176.67,429.10 L177.67,429.07 L178.67,429.03 L179.67,429.00 L180.67,428.97 L181.68,428.93 L182.68,428.90 L183.68,428.87 L184.68,428.83 L185.68,428.80 L186.68,428.76 L187.69,428.73 L188.69,428.69 L189.69,428.65 L190.69,428.62 L191.69,428.58 L192.69,428.55 L193.69,428.51 L194.70,428.47 L195.70,428.43 L196.70,428.39 L197.70,428.36 L198.70,428.32 L199.70,428.28 L200.71,428.24 L201.71,428.20 L202.71,428.16 L203.71,428.11 L204.71,428.07 L205.72,428.03 L206.72,427.99 L207.72,427.94 L208.72,427.90 L209.72,427.86 L210.72,427.81 L211.72,427.77 L212.73,427.72 L213.73,427.67 L214.73,427.63 L215.73,427.58 L216.73,427.53 L217.74,427.48 L218.74,427.43 L219.74,427.38 L220.74,427.33 L221.74,427.28 L222.74,427.23 L223.75,427.18 L224.75,427.13 L225.75,427.07 L226.75,427.02 L227.75,426.96 L228.75,426.91 L229.75,426.85 L230.76,426.79 L231.76,426.73 L232.76,426.67 L233.76,426.61 L234.76,426.55 L235.76,426.49 L236.77,426.43 L237.77,426.37 L238.77,426.30 L239.77,426.24 L240.77,426.17 L241.78,426.11 L242.78,426.04 L243.78,425.97 L244.78,425.90 L245.78,425.83 L246.78,425.76 L247.78,425.69 L248.79,425.61 L249.79,425.54 L250.79,425.46 L251.79,425.38 L252.79,425.31 L253.79,425.23 L254.80,425.15 L255.80,425.07 L256.80,424.99 L257.80,424.90 L258.80,424.82 L259.81,424.73 L260.81,424.65 L261.81,424.56 L262.81,424.47 L263.81,424.38 L264.81,424.29 L265.81,424.19 L266.82,424.10 L267.82,424.01 L268.82,423.91 L269.82,423.81 L270.82,423.71 L271.82,423.61 L272.83,423.51 L273.83,423.41 L274.83,423.30 L275.83,423.20 L276.83,423.09 L277.84,422.98 L278.84,422.87 L279.84,422.76 L280.84,422.64 L281.84,422.52 L282.84,422.40 L283.85,422.27 L284.85,422.13 L285.85,421.99 L286.85,421.84 L287.85,421.69 L288.85,421.53 L289.86,421.37 L290.86,421.21 L291.86,421.04 L292.86,420.87 L293.86,420.69 L294.86,420.51 L295.87,420.33 L296.87,420.14 L297.87,419.95 L298.87,419.76 L299.87,419.56 L300.87,419.36 L301.88,419.16 L302.88,418.96 L303.88,418.75 L304.88,418.55 L305.88,418.34 L306.88,418.13 L307.88,417.92 L308.89,417.70 L309.89,417.49 L310.89,417.27 L311.89,417.06 L312.89,416.84 L313.89,416.62 L314.90,416.41 L315.90,416.19 L316.90,415.97 L317.90,415.75 L318.90,415.51 L319.90,415.27 L320.91,415.02 L321.91,414.77 L322.91,414.51 L323.91,414.25 L324.91,414.00 L325.91,413.75 L326.92,413.50 L327.92,413.27 L328.92,413.06 L329.92,412.84 L330.92,412.62 L331.93,412.38 L332.93,412.11 L333.93,411.82 L334.93,411.47 L335.93,411.06 L336.93,410.61 L337.94,410.13 L338.94,409.63 L339.94,409.12 L340.94,408.61 L341.94,408.11 L342.94,407.59 L343.94,407.07 L344.95,406.54 L345.95,405.99 L346.95,405.43 L347.95,404.86 L348.95,404.28 L349.95,403.68 L350.96,403.07 L351.96,402.44 L352.96,401.80 L353.96,401.13 L354.96,400.45 L355.96,399.75 L356.97,399.03 L357.97,398.29 L358.97,397.54 L359.97,396.77 L360.97,395.99 L361.98,395.19 L362.98,394.37 L363.98,393.54 L364.98,392.70 L365.98,391.83 L366.98,390.93 L367.99,390.00 L368.99,389.04 L369.99,388.04 L370.99,387.00 L371.99,385.96 L372.99,384.93 L374.00,383.85 L375.00,382.64 L376.00,381.22 L377.00,379.54 L378.00,377.21 L379.00,374.08 L380.00,370.43 L381.01,366.50 L382.01,362.57 L383.01,358.62 L384.01,354.33 L385.01,349.51 L386.01,343.92 L387.02,337.55 L388.02,330.53 L389.02,322.52 L390.02,313.45 L391.02,303.86 L392.02,294.26 L393.03,285.18 L394.03,277.07 L395.03,269.49 L396.03,262.23 L397.03,255.21 L398.04,248.39 L399.04,241.69 L400.04,235.07 L401.04,228.47 L402.04,221.82 L403.04,215.15 L404.05,208.54 L405.05,202.04 L406.05,195.71 L407.05,189.62 L408.05,183.83 L409.05,178.39 L410.06,173.00 L411.06,167.61 L412.06,162.33 L413.06,157.28 L414.06,152.59 L415.06,148.37 L416.06,144.74 L417.07,141.83 L418.07,139.45 L419.07,137.32 L420.07,135.40 L421.07,133.66 L422.07,132.07 L423.08,130.58 L424.08,129.16 L425.08,127.78 L426.08,126.40 L427.08,125.08 L428.08,123.85 L429.09,122.68 L430.09,121.55 L431.09,120.43 L432.09,119.28 L433.09,118.10 L434.10,116.90 L435.10,115.70 L436.10,114.53 L437.10,113.41 L438.10,112.36 L439.10,111.39 L440.11,110.44 L441.11,109.52 L442.11,108.62 L443.11,107.76 L444.11,106.91 L445.11,106.10 L446.12,105.32 L447.12,104.57 L448.12,103.85 L449.12,103.16 L450.12,102.50 L451.12,101.87 L452.12,101.26 L453.13,100.68 L454.13,100.11 L455.13,99.56 L456.13,99.02 L457.13,98.50 L458.13,97.99 L459.14,97.49 L460.14,96.99 L461.14,96.50 L462.14,96.00 L463.14,95.50 L464.14,95.00 L465.15,94.51 L466.15,94.04 L467.15,93.60 L468.15,93.20 L469.15,92.83 L470.15,92.52 L471.16,92.24 L472.16,91.97 L473.16,91.70 L474.16,91.45 L475.16,91.20 L476.17,90.96 L477.17,90.73 L478.17,90.51 L479.17,90.30 L480.17,90.09 L481.17,89.89 L482.18,89.69 L483.18,89.51 L484.18,89.32 L485.18,89.14 L486.18,88.97 L487.18,88.80 L488.19,88.63 L489.19,88.47 L490.19,88.31 L491.19,88.15 L492.19,88.00 L493.19,87.85 L494.19,87.69 L495.20,87.54 L496.20,87.39 L497.20,87.24 L498.20,87.09 L499.20,86.94 L500.20,86.80 L501.21,86.65 L502.21,86.51 L503.21,86.37 L504.21,86.23 L505.21,86.10 L506.21,85.96 L507.22,85.83 L508.22,85.69 L509.22,85.56 L510.22,85.43 L511.22,85.31 L512.23,85.18 L513.23,85.06 L514.23,84.93 L515.23,84.81 L516.23,84.69 L517.23,84.57 L518.24,84.46 L519.24,84.34 L520.24,84.23 L521.24,84.11 L522.24,84.00 L523.24,83.89 L524.25,83.79 L525.25,83.68 L526.25,83.57 L527.25,83.47 L528.25,83.37 L529.25,83.26 L530.25,83.16 L531.26,83.06 L532.26,82.97 L533.26,82.87 L534.26,82.77 L535.26,82.68 L536.26,82.59 L537.27,82.49 L538.27,82.40 L539.27,82.31 L540.27,82.23 L541.27,82.14 L542.27,82.05 L543.28,81.97 L544.28,81.88 L545.28,81.80 L546.28,81.72 L547.28,81.64 L548.29,81.56 L549.29,81.48 L550.29,81.40 L551.29,81.32 L552.29,81.25 L553.29,81.17 L554.30,81.10 L555.30,81.02 L556.30,80.95 L557.30,80.88 L558.30,80.81 L559.30,80.73 L560.31,80.66 L561.31,80.59 L562.31,80.52 L563.31,80.45 L564.31,80.39 L565.31,80.32 L566.32,80.25 L567.32,80.18 L568.32,80.12 L569.32,80.05 L570.32,79.98 L571.32,79.92 L572.33,79.85 L573.33,79.79 L574.33,79.72 L575.33,79.66 L576.33,79.59 L577.33,79.53 L578.34,79.46 L579.34,79.40 L580.34,79.34 L581.34,79.27 L582.34,79.21 L583.34,79.15 L584.35,79.09 L585.35,79.03 L586.35,78.97 L587.35,78.91 L588.35,78.85 L589.35,78.79 L590.36,78.73 L591.36,78.67 L592.36,78.61 L593.36,78.55 L594.36,78.49 L595.36,78.44 L596.37,78.38 L597.37,78.32 L598.37,78.27 L599.37,78.21 L600.37,78.15 L601.37,78.10 L602.38,78.04 L603.38,77.99 L604.38,77.93 L605.38,77.88 L606.38,77.82 L607.38,77.77 L608.38,77.71 L609.39,77.66 L610.39,77.60 L611.39,77.55 L612.39,77.50 L613.39,77.44 L614.39,77.39 L615.40,77.33 L616.40,77.28 L617.40,77.23 L618.40,77.18 L619.40,77.12 L620.40,77.07 L621.41,77.02 L622.41,76.96 L623.41,76.91 L624.41,76.86 L625.41,76.80 L626.41,76.75 L627.42,76.70 L628.42,76.65 L629.42,76.59 L630.42,76.54 L631.42,76.49 L632.42,76.43 L633.43,76.38 L634.43,76.33 L635.43,76.28 L636.43,76.22 L637.43,76.17 L638.43,76.12 L639.44,76.07 L640.44,76.02 L641.44,75.96 L642.44,75.91 L643.44,75.86 L644.45,75.81 L645.45,75.76 L646.45,75.71 L647.45,75.66 L648.45,75.61 L649.45,75.56 L650.46,75.51 L651.46,75.45 L652.46,75.40 L653.46,75.35 L654.46,75.30 L655.46,75.25 L656.47,75.20 L657.47,75.15 L658.47,75.11 L659.47,75.06 L660.47,75.01 L661.47,74.96 L662.48,74.91 L663.48,74.86 L664.48,74.81 L665.48,74.76 L666.48,74.71 L667.48,74.66 L668.49,74.62 L669.49,74.57 L670.49,74.52 L671.49,74.47 L672.49,74.42 L673.49,74.38 L674.50,74.33 L675.50,74.28 L676.50,74.23 L677.50,74.19" stroke="#e05050" stroke-width="0.9" fill="none" stroke-linejoin="round" opacity="1"/><path d="M677.50,73.07 L676.50,73.11 L675.50,73.14 L674.50,73.18 L673.49,73.22 L672.49,73.26 L671.49,73.30 L670.49,73.33 L669.49,73.37 L668.49,73.41 L667.48,73.45 L666.48,73.48 L665.48,73.52 L664.48,73.56 L663.48,73.60 L662.48,73.63 L661.47,73.67 L660.47,73.71 L659.47,73.75 L658.47,73.78 L657.47,73.82 L656.47,73.86 L655.46,73.90 L654.46,73.93 L653.46,73.97 L652.46,74.01 L651.46,74.05 L650.46,74.08 L649.45,74.12 L648.45,74.16 L647.45,74.20 L646.45,74.23 L645.45,74.27 L644.45,74.31 L643.44,74.34 L642.44,74.38 L641.44,74.42 L640.44,74.45 L639.44,74.49 L638.43,74.53 L637.43,74.56 L636.43,74.60 L635.43,74.64 L634.43,74.67 L633.43,74.71 L632.42,74.75 L631.42,74.78 L630.42,74.82 L629.42,74.86 L628.42,74.89 L627.42,74.93 L626.41,74.96 L625.41,75.00 L624.41,75.03 L623.41,75.07 L622.41,75.10 L621.41,75.14 L620.40,75.17 L619.40,75.21 L618.40,75.24 L617.40,75.27 L616.40,75.30 L615.40,75.34 L614.39,75.37 L613.39,75.40 L612.39,75.43 L611.39,75.47 L610.39,75.50 L609.39,75.53 L608.38,75.56 L607.38,75.59 L606.38,75.62 L605.38,75.66 L604.38,75.69 L603.38,75.72 L602.38,75.75 L601.37,75.78 L600.37,75.81 L599.37,75.84 L598.37,75.87 L597.37,75.90 L596.37,75.93 L595.36,75.96 L594.36,75.99 L593.36,76.02 L592.36,76.06 L591.36,76.09 L590.36,76.12 L589.35,76.15 L588.35,76.18 L587.35,76.21 L586.35,76.24 L585.35,76.27 L584.35,76.30 L583.34,76.33 L582.34,76.36 L581.34,76.40 L580.34,76.43 L579.34,76.46 L578.34,76.49 L577.33,76.52 L576.33,76.55 L575.33,76.59 L574.33,76.62 L573.33,76.65 L572.33,76.68 L571.32,76.72 L570.32,76.75 L569.32,76.78 L568.32,76.82 L567.32,76.85 L566.32,76.89 L565.31,76.92 L564.31,76.95 L563.31,76.99 L562.31,77.02 L561.31,77.06 L560.31,77.10 L559.30,77.13 L558.30,77.17 L557.30,77.21 L556.30,77.24 L555.30,77.28 L554.30,77.32 L553.29,77.36 L552.29,77.40 L551.29,77.43 L550.29,77.47 L549.29,77.51 L548.29,77.55 L547.28,77.59 L546.28,77.64 L545.28,77.68 L544.28,77.72 L543.28,77.76 L542.27,77.80 L541.27,77.85 L540.27,77.89 L539.27,77.94 L538.27,77.98 L537.27,78.03 L536.26,78.07 L535.26,78.12 L534.26,78.17 L533.26,78.21 L532.26,78.26 L531.26,78.31 L530.25,78.36 L529.25,78.41 L528.25,78.46 L527.25,78.52 L526.25,78.57 L525.25,78.63 L524.25,78.68 L523.24,78.74 L522.24,78.80 L521.24,78.86 L520.24,78.92 L519.24,78.98 L518.24,79.05 L517.23,79.11 L516.23,79.18 L515.23,79.25 L514.23,79.31 L513.23,79.38 L512.23,79.45 L511.22,79.52 L510.22,79.59 L509.22,79.67 L508.22,79.74 L507.22,79.81 L506.21,79.89 L505.21,79.96 L504.21,80.04 L503.21,80.12 L502.21,80.20 L501.21,80.27 L500.20,80.35 L499.20,80.43 L498.20,80.51 L497.20,80.60 L496.20,80.68 L495.20,80.76 L494.19,80.84 L493.19,80.93 L492.19,81.01 L491.19,81.09 L490.19,81.18 L489.19,81.26 L488.19,81.35 L487.18,81.43 L486.18,81.52 L485.18,81.61 L484.18,81.69 L483.18,81.78 L482.18,81.87 L481.17,81.95 L480.17,82.04 L479.17,82.13 L478.17,82.22 L477.17,82.30 L476.17,82.39 L475.16,82.48 L474.16,82.57 L473.16,82.65 L472.16,82.74 L471.16,82.82 L470.15,82.91 L469.15,82.99 L468.15,83.08 L467.15,83.16 L466.15,83.25 L465.15,83.33 L464.14,83.42 L463.14,83.50 L462.14,83.59 L461.14,83.68 L460.14,83.77 L459.14,83.86 L458.13,83.95 L457.13,84.05 L456.13,84.14 L455.13,84.24 L454.13,84.34 L453.13,84.45 L452.12,84.55 L451.12,84.66 L450.12,84.77 L449.12,84.89 L448.12,85.01 L447.12,85.13 L446.12,85.25 L445.11,85.38 L444.11,85.52 L443.11,85.65 L442.11,85.79 L441.11,85.94 L440.11,86.09 L439.10,86.27 L438.10,86.46 L437.10,86.67 L436.10,86.90 L435.10,87.14 L434.10,87.38 L433.09,87.64 L432.09,87.89 L431.09,88.14 L430.09,88.39 L429.09,88.63 L428.08,88.88 L427.08,89.12 L426.08,89.37 L425.08,89.62 L424.08,89.87 L423.08,90.12 L422.07,90.38 L421.07,90.65 L420.07,90.92 L419.07,91.20 L418.07,91.48 L417.07,91.78 L416.06,92.08 L415.06,92.40 L414.06,92.72 L413.06,93.07 L412.06,93.44 L411.06,93.82 L410.06,94.22 L409.05,94.63 L408.05,95.06 L407.05,95.50 L406.05,95.95 L405.05,96.42 L404.05,96.91 L403.04,97.42 L402.04,97.96 L401.04,98.52 L400.04,99.12 L399.04,99.74 L398.04,100.39 L397.03,101.08 L396.03,101.80 L395.03,102.56 L394.03,103.36 L393.03,104.20 L392.02,105.09 L391.02,106.03 L390.02,107.04 L389.02,108.19 L388.02,109.45 L387.02,110.80 L386.01,112.20 L385.01,113.62 L384.01,115.02 L383.01,116.38 L382.01,117.62 L381.01,118.80 L380.00,119.99 L379.00,121.26 L378.00,122.67 L377.00,124.30 L376.00,126.22 L375.00,128.78 L374.00,132.11 L372.99,135.95 L371.99,140.01 L370.99,144.26 L369.99,148.85 L368.99,153.73 L367.99,158.89 L366.98,164.28 L365.98,169.88 L364.98,175.67 L363.98,181.60 L362.98,187.65 L361.98,193.79 L360.97,199.99 L359.97,206.45 L358.97,213.31 L357.97,220.48 L356.97,227.84 L355.96,235.30 L354.96,242.75 L353.96,250.09 L352.96,257.21 L351.96,264.06 L350.96,270.76 L349.95,277.36 L348.95,283.90 L347.95,290.43 L346.95,296.98 L345.95,303.81 L344.95,310.75 L343.94,317.18 L342.94,322.59 L341.94,327.28 L340.94,331.54 L339.94,335.53 L338.94,339.41 L337.94,343.27 L336.93,347.04 L335.93,350.59 L334.93,353.80 L333.93,356.63 L332.93,359.28 L331.93,361.77 L330.92,364.10 L329.92,366.26 L328.92,368.25 L327.92,370.05 L326.92,371.67 L325.91,373.14 L324.91,374.50 L323.91,375.79 L322.91,377.04 L321.91,378.30 L320.91,379.57 L319.90,380.84 L318.90,382.10 L317.90,383.33 L316.90,384.53 L315.90,385.70 L314.90,386.82 L313.89,387.89 L312.89,388.91 L311.89,389.88 L310.89,390.84 L309.89,391.79 L308.89,392.71 L307.88,393.62 L306.88,394.51 L305.88,395.37 L304.88,396.21 L303.88,397.02 L302.88,397.80 L301.88,398.54 L300.87,399.26 L299.87,399.93 L298.87,400.57 L297.87,401.16 L296.87,401.73 L295.87,402.28 L294.86,402.81 L293.86,403.32 L292.86,403.82 L291.86,404.30 L290.86,404.76 L289.86,405.21 L288.85,405.65 L287.85,406.07 L286.85,406.48 L285.85,406.88 L284.85,407.26 L283.85,407.63 L282.84,407.99 L281.84,408.34 L280.84,408.68 L279.84,409.01 L278.84,409.33 L277.84,409.64 L276.83,409.95 L275.83,410.26 L274.83,410.55 L273.83,410.85 L272.83,411.13 L271.82,411.41 L270.82,411.69 L269.82,411.96 L268.82,412.22 L267.82,412.47 L266.82,412.72 L265.81,412.96 L264.81,413.20 L263.81,413.43 L262.81,413.65 L261.81,413.87 L260.81,414.07 L259.81,414.27 L258.80,414.47 L257.80,414.65 L256.80,414.83 L255.80,415.01 L254.80,415.18 L253.79,415.34 L252.79,415.51 L251.79,415.67 L250.79,415.82 L249.79,415.98 L248.79,416.13 L247.78,416.28 L246.78,416.42 L245.78,416.57 L244.78,416.71 L243.78,416.84 L242.78,416.98 L241.78,417.11 L240.77,417.24 L239.77,417.37 L238.77,417.49 L237.77,417.62 L236.77,417.74 L235.76,417.86 L234.76,417.98 L233.76,418.09 L232.76,418.21 L231.76,418.32 L230.76,418.43 L229.75,418.54 L228.75,418.65 L227.75,418.76 L226.75,418.87 L225.75,418.97 L224.75,419.08 L223.75,419.18 L222.74,419.28 L221.74,419.39 L220.74,419.49 L219.74,419.59 L218.74,419.69 L217.74,419.79 L216.73,419.88 L215.73,419.98 L214.73,420.08 L213.73,420.18 L212.73,420.27 L211.72,420.37 L210.72,420.46 L209.72,420.55 L208.72,420.64 L207.72,420.74 L206.72,420.83 L205.72,420.92 L204.71,421.00 L203.71,421.09 L202.71,421.18 L201.71,421.27 L200.71,421.35 L199.70,421.44 L198.70,421.52 L197.70,421.60 L196.70,421.68 L195.70,421.76 L194.70,421.84 L193.69,421.92 L192.69,422.00 L191.69,422.07 L190.69,422.15 L189.69,422.22 L188.69,422.30 L187.69,422.37 L186.68,422.44 L185.68,422.51 L184.68,422.58 L183.68,422.64 L182.68,422.71 L181.68,422.78 L180.67,422.84 L179.67,422.90 L178.67,422.96 L177.67,423.02 L176.67,423.08 L175.67,423.14 L174.66,423.20 L173.66,423.25 L172.66,423.31 L171.66,423.36 L170.66,423.41 L169.66,423.47 L168.65,423.52 L167.65,423.57 L166.65,423.62 L165.65,423.66 L164.65,423.71 L163.64,423.76 L162.64,423.81 L161.64,423.85 L160.64,423.90 L159.64,423.94 L158.64,423.98 L157.63,424.03 L156.63,424.07 L155.63,424.11 L154.63,424.16 L153.63,424.20 L152.63,424.24 L151.62,424.28 L150.62,424.32 L149.62,424.36 L148.62,424.40 L147.62,424.44 L146.62,424.48 L145.62,424.52 L144.61,424.56 L143.61,424.60 L142.61,424.65 L141.61,424.69 L140.61,424.73 L139.60,424.77 L138.60,424.81 L137.60,424.85 L136.60,424.89 L135.60,424.93 L134.60,424.97 L133.59,425.01 L132.59,425.06 L131.59,425.10 L130.59,425.14 L129.59,425.19 L128.59,425.23 L127.59,425.27 L126.58,425.32 L125.58,425.36 L124.58,425.41 L123.58,425.46 L122.58,425.51 L121.58,425.55 L120.57,425.60 L119.57,425.65 L118.57,425.70 L117.57,425.74 L116.57,425.79 L115.56,425.84 L114.56,425.89 L113.56,425.94 L112.56,425.98 L111.56,426.03 L110.56,426.08 L109.56,426.13 L108.55,426.18 L107.55,426.23 L106.55,426.28 L105.55,426.33 L104.55,426.38 L103.55,426.43 L102.54,426.47 L101.54,426.52 L100.54,426.57 L99.54,426.62 L98.54,426.67 L97.53,426.72 L96.53,426.77 L95.53,426.82 L94.53,426.87 L93.53,426.92 L92.53,426.98 L91.53,427.03 L90.52,427.08 L89.52,427.13 L88.52,427.18 L87.52,427.23 L86.52,427.28 L85.52,427.33 L84.51,427.38 L83.51,427.43 L82.51,427.49 L81.51,427.54 L80.51,427.59 L79.50,427.64 L78.50,427.69 L77.50,427.74 L76.50,427.80 L76.50,431.33 L77.50,431.29 L78.50,431.26 L79.50,431.22 L80.51,431.18 L81.51,431.14 L82.51,431.11 L83.51,431.07 L84.51,431.03 L85.52,430.99 L86.52,430.95 L87.52,430.92 L88.52,430.88 L89.52,430.84 L90.52,430.80 L91.53,430.77 L92.53,430.73 L93.53,430.69 L94.53,430.65 L95.53,430.62 L96.53,430.58 L97.53,430.54 L98.54,430.50 L99.54,430.47 L100.54,430.43 L101.54,430.39 L102.54,430.35 L103.55,430.32 L104.55,430.28 L105.55,430.24 L106.55,430.21 L107.55,430.17 L108.55,430.13 L109.56,430.09 L110.56,430.06 L111.56,430.02 L112.56,429.98 L113.56,429.95 L114.56,429.91 L115.56,429.87 L116.57,429.84 L117.57,429.80 L118.57,429.76 L119.57,429.73 L120.57,429.69 L121.58,429.65 L122.58,429.62 L123.58,429.58 L124.58,429.54 L125.58,429.51 L126.58,429.47 L127.59,429.43 L128.59,429.40 L129.59,429.36 L130.59,429.33 L131.59,429.30 L132.59,429.26 L133.59,429.23 L134.60,429.19 L135.60,429.16 L136.60,429.13 L137.60,429.09 L138.60,429.06 L139.60,429.03 L140.61,429.00 L141.61,428.97 L142.61,428.93 L143.61,428.90 L144.61,428.87 L145.62,428.84 L146.62,428.81 L147.62,428.78 L148.62,428.74 L149.62,428.71 L150.62,428.68 L151.62,428.65 L152.63,428.62 L153.63,428.59 L154.63,428.56 L155.63,428.53 L156.63,428.50 L157.63,428.47 L158.64,428.43 L159.64,428.40 L160.64,428.37 L161.64,428.34 L162.64,428.31 L163.64,428.28 L164.65,428.25 L165.65,428.22 L166.65,428.19 L167.65,428.16 L168.65,428.13 L169.66,428.09 L170.66,428.06 L171.66,428.03 L172.66,428.00 L173.66,427.97 L174.66,427.94 L175.67,427.90 L176.67,427.87 L177.67,427.84 L178.67,427.81 L179.67,427.77 L180.67,427.74 L181.68,427.71 L182.68,427.67 L183.68,427.64 L184.68,427.60 L185.68,427.57 L186.68,427.53 L187.69,427.50 L188.69,427.46 L189.69,427.43 L190.69,427.39 L191.69,427.36 L192.69,427.32 L193.69,427.28 L194.70,427.25 L195.70,427.21 L196.70,427.17 L197.70,427.13 L198.70,427.09 L199.70,427.05 L200.71,427.01 L201.71,426.97 L202.71,426.93 L203.71,426.89 L204.71,426.85 L205.72,426.81 L206.72,426.77 L207.72,426.72 L208.72,426.68 L209.72,426.64 L210.72,426.59 L211.72,426.55 L212.73,426.50 L213.73,426.45 L214.73,426.41 L215.73,426.36 L216.73,426.31 L217.74,426.27 L218.74,426.22 L219.74,426.17 L220.74,426.12 L221.74,426.07 L222.74,426.01 L223.75,425.96 L224.75,425.91 L225.75,425.86 L226.75,425.80 L227.75,425.75 L228.75,425.69 L229.75,425.64 L230.76,425.58 L231.76,425.52 L232.76,425.46 L233.76,425.40 L234.76,425.34 L235.76,425.28 L236.77,425.22 L237.77,425.16 L238.77,425.09 L239.77,425.03 L240.77,424.96 L241.78,424.90 L242.78,424.83 L243.78,424.76 L244.78,424.69 L245.78,424.62 L246.78,424.55 L247.78,424.48 L248.79,424.41 L249.79,424.33 L250.79,424.26 L251.79,424.18 L252.79,424.10 L253.79,424.03 L254.80,423.95 L255.80,423.87 L256.80,423.78 L257.80,423.70 L258.80,423.62 L259.81,423.53 L260.81,423.45 L261.81,423.36 L262.81,423.27 L263.81,423.18 L264.81,423.09 L265.81,423.00 L266.82,422.91 L267.82,422.81 L268.82,422.72 L269.82,422.62 L270.82,422.52 L271.82,422.42 L272.83,422.32 L273.83,422.22 L274.83,422.11 L275.83,422.01 L276.83,421.90 L277.84,421.79 L278.84,421.68 L279.84,421.57 L280.84,421.46 L281.84,421.34 L282.84,421.21 L283.85,421.08 L284.85,420.95 L285.85,420.81 L286.85,420.66 L287.85,420.51 L288.85,420.36 L289.86,420.20 L290.86,420.03 L291.86,419.87 L292.86,419.70 L293.86,419.52 L294.86,419.34 L295.87,419.16 L296.87,418.97 L297.87,418.78 L298.87,418.59 L299.87,418.40 L300.87,418.20 L301.88,418.00 L302.88,417.80 L303.88,417.60 L304.88,417.39 L305.88,417.18 L306.88,416.97 L307.88,416.76 L308.89,416.55 L309.89,416.34 L310.89,416.13 L311.89,415.91 L312.89,415.70 L313.89,415.48 L314.90,415.26 L315.90,415.05 L316.90,414.83 L317.90,414.61 L318.90,414.38 L319.90,414.14 L320.91,413.89 L321.91,413.64 L322.91,413.38 L323.91,413.12 L324.91,412.87 L325.91,412.62 L326.92,412.38 L327.92,412.15 L328.92,411.94 L329.92,411.72 L330.92,411.50 L331.93,411.26 L332.93,411.00 L333.93,410.71 L334.93,410.36 L335.93,409.96 L336.93,409.51 L337.94,409.03 L338.94,408.54 L339.94,408.03 L340.94,407.53 L341.94,407.03 L342.94,406.51 L343.94,405.99 L344.95,405.46 L345.95,404.92 L346.95,404.37 L347.95,403.80 L348.95,403.22 L349.95,402.63 L350.96,402.02 L351.96,401.40 L352.96,400.76 L353.96,400.10 L354.96,399.42 L355.96,398.72 L356.97,398.01 L357.97,397.28 L358.97,396.53 L359.97,395.77 L360.97,394.99 L361.98,394.19 L362.98,393.38 L363.98,392.56 L364.98,391.72 L365.98,390.86 L366.98,389.97 L367.99,389.05 L368.99,388.09 L369.99,387.10 L370.99,386.07 L371.99,385.03 L372.99,384.01 L374.00,382.93 L375.00,381.73 L376.00,380.33 L377.00,378.65 L378.00,376.34 L379.00,373.24 L380.00,369.61 L381.01,365.71 L382.01,361.80 L383.01,357.88 L384.01,353.62 L385.01,348.84 L386.01,343.28 L387.02,336.95 L388.02,329.98 L389.02,322.03 L390.02,313.03 L391.02,303.50 L392.02,293.96 L393.03,284.95 L394.03,276.90 L395.03,269.37 L396.03,262.16 L397.03,255.19 L398.04,248.41 L399.04,241.77 L400.04,235.19 L401.04,228.63 L402.04,222.03 L403.04,215.41 L404.05,208.84 L405.05,202.38 L406.05,196.10 L407.05,190.05 L408.05,184.30 L409.05,178.90 L410.06,173.55 L411.06,168.20 L412.06,162.96 L413.06,157.94 L414.06,153.28 L415.06,149.09 L416.06,145.49 L417.07,142.60 L418.07,140.24 L419.07,138.12 L420.07,136.22 L421.07,134.49 L422.07,132.90 L423.08,131.42 L424.08,130.01 L425.08,128.65 L426.08,127.28 L427.08,125.96 L428.08,124.74 L429.09,123.58 L430.09,122.46 L431.09,121.35 L432.09,120.21 L433.09,119.03 L434.10,117.84 L435.10,116.65 L436.10,115.48 L437.10,114.37 L438.10,113.33 L439.10,112.37 L440.11,111.43 L441.11,110.51 L442.11,109.62 L443.11,108.76 L444.11,107.92 L445.11,107.12 L446.12,106.34 L447.12,105.59 L448.12,104.88 L449.12,104.20 L450.12,103.54 L451.12,102.91 L452.12,102.31 L453.13,101.73 L454.13,101.17 L455.13,100.62 L456.13,100.09 L457.13,99.57 L458.13,99.06 L459.14,98.56 L460.14,98.07 L461.14,97.58 L462.14,97.09 L463.14,96.59 L464.14,96.09 L465.15,95.61 L466.15,95.14 L467.15,94.70 L468.15,94.30 L469.15,93.94 L470.15,93.63 L471.16,93.35 L472.16,93.08 L473.16,92.82 L474.16,92.56 L475.16,92.32 L476.17,92.08 L477.17,91.86 L478.17,91.63 L479.17,91.42 L480.17,91.22 L481.17,91.02 L482.18,90.82 L483.18,90.64 L484.18,90.45 L485.18,90.28 L486.18,90.10 L487.18,89.94 L488.19,89.77 L489.19,89.61 L490.19,89.45 L491.19,89.29 L492.19,89.14 L493.19,88.99 L494.19,88.84 L495.20,88.69 L496.20,88.54 L497.20,88.39 L498.20,88.24 L499.20,88.09 L500.20,87.95 L501.21,87.81 L502.21,87.66 L503.21,87.52 L504.21,87.39 L505.21,87.25 L506.21,87.12 L507.22,86.98 L508.22,86.85 L509.22,86.72 L510.22,86.59 L511.22,86.47 L512.23,86.34 L513.23,86.22 L514.23,86.10 L515.23,85.98 L516.23,85.86 L517.23,85.74 L518.24,85.62 L519.24,85.51 L520.24,85.39 L521.24,85.28 L522.24,85.17 L523.24,85.06 L524.25,84.96 L525.25,84.85 L526.25,84.74 L527.25,84.64 L528.25,84.54 L529.25,84.44 L530.25,84.34 L531.26,84.24 L532.26,84.14 L533.26,84.05 L534.26,83.95 L535.26,83.86 L536.26,83.77 L537.27,83.67 L538.27,83.58 L539.27,83.50 L540.27,83.41 L541.27,83.32 L542.27,83.24 L543.28,83.15 L544.28,83.07 L545.28,82.99 L546.28,82.90 L547.28,82.82 L548.29,82.74 L549.29,82.67 L550.29,82.59 L551.29,82.51 L552.29,82.44 L553.29,82.36 L554.30,82.29 L555.30,82.21 L556.30,82.14 L557.30,82.07 L558.30,82.00 L559.30,81.93 L560.31,81.86 L561.31,81.79 L562.31,81.72 L563.31,81.65 L564.31,81.58 L565.31,81.51 L566.32,81.45 L567.32,81.38 L568.32,81.31 L569.32,81.25 L570.32,81.18 L571.32,81.12 L572.33,81.05 L573.33,80.99 L574.33,80.92 L575.33,80.86 L576.33,80.79 L577.33,80.73 L578.34,80.66 L579.34,80.60 L580.34,80.54 L581.34,80.48 L582.34,80.41 L583.34,80.35 L584.35,80.29 L585.35,80.23 L586.35,80.17 L587.35,80.11 L588.35,80.05 L589.35,79.99 L590.36,79.93 L591.36,79.87 L592.36,79.82 L593.36,79.76 L594.36,79.70 L595.36,79.64 L596.37,79.59 L597.37,79.53 L598.37,79.47 L599.37,79.42 L600.37,79.36 L601.37,79.31 L602.38,79.25 L603.38,79.20 L604.38,79.14 L605.38,79.09 L606.38,79.03 L607.38,78.98 L608.38,78.92 L609.39,78.87 L610.39,78.82 L611.39,78.76 L612.39,78.71 L613.39,78.66 L614.39,78.60 L615.40,78.55 L616.40,78.50 L617.40,78.44 L618.40,78.39 L619.40,78.34 L620.40,78.29 L621.41,78.23 L622.41,78.18 L623.41,78.13 L624.41,78.08 L625.41,78.02 L626.41,77.97 L627.42,77.92 L628.42,77.87 L629.42,77.81 L630.42,77.76 L631.42,77.71 L632.42,77.66 L633.43,77.60 L634.43,77.55 L635.43,77.50 L636.43,77.45 L637.43,77.40 L638.43,77.34 L639.44,77.29 L640.44,77.24 L641.44,77.19 L642.44,77.14 L643.44,77.09 L644.45,77.04 L645.45,76.99 L646.45,76.94 L647.45,76.88 L648.45,76.83 L649.45,76.78 L650.46,76.73 L651.46,76.68 L652.46,76.63 L653.46,76.58 L654.46,76.53 L655.46,76.48 L656.47,76.43 L657.47,76.39 L658.47,76.34 L659.47,76.29 L660.47,76.24 L661.47,76.19 L662.48,76.14 L663.48,76.09 L664.48,76.04 L665.48,76.00 L666.48,75.95 L667.48,75.90 L668.49,75.85 L669.49,75.80 L670.49,75.76 L671.49,75.71 L672.49,75.66 L673.49,75.61 L674.50,75.57 L675.50,75.52 L676.50,75.47 L677.50,75.42" stroke="#3c3c3c" stroke-width="0.9" fill="none" stroke-linejoin="round" opacity="1"/><path d="M677.50,66.00 L667.48,70.36 L657.47,71.54 L647.45,72.91 L637.43,74.25 L627.42,75.39 L617.40,76.37 L607.38,77.10 L597.37,77.78 L587.35,78.60 L577.33,79.31 L567.32,79.77 L557.30,80.14 L547.28,80.44 L537.27,80.73 L527.25,81.08 L517.23,82.26 L507.22,82.97 L497.20,84.26 L487.18,85.56 L477.17,86.74 L467.15,88.15 L457.13,89.92 L447.12,92.40 L437.10,94.87 L427.08,98.41 L417.07,103.47 L407.05,111.37 L397.03,120.33 L387.02,135.53 L377.00,161.69 L366.98,200.23 L356.97,245.95 L346.95,290.50 L336.93,323.62 L326.92,348.25 L316.90,366.04 L306.88,379.71 L296.87,389.61 L286.85,396.33 L276.83,401.75 L266.82,407.17 L256.80,410.00 L246.78,412.95 L236.77,415.42 L226.75,417.19 L216.73,418.60 L206.72,419.55 L196.70,420.38 L186.68,421.16 L176.67,421.90 L166.65,422.64 L156.63,423.38 L146.62,424.10 L136.60,424.77 L126.58,425.38 L116.57,425.91 L106.55,426.37 L96.53,426.78 L86.52,427.14 L76.50,427.44 L76.50,438.40 L86.52,434.04 L96.53,432.86 L106.55,431.49 L116.57,430.15 L126.58,429.01 L136.60,428.03 L146.62,427.30 L156.63,426.62 L166.65,425.80 L176.67,425.09 L186.68,424.63 L196.70,424.26 L206.72,423.96 L216.73,423.67 L226.75,423.32 L236.77,422.14 L246.78,421.43 L256.80,420.14 L266.82,418.84 L276.83,417.66 L286.85,416.25 L296.87,414.48 L306.88,412.00 L316.90,409.53 L326.92,405.99 L336.93,400.93 L346.95,393.03 L356.97,384.07 L366.98,368.87 L377.00,342.71 L387.02,304.17 L397.03,258.45 L407.05,213.90 L417.07,180.78 L427.08,156.15 L437.10,138.36 L447.12,124.69 L457.13,114.79 L467.15,108.07 L477.17,102.65 L487.18,97.23 L497.20,94.40 L507.22,91.45 L517.23,88.98 L527.25,87.21 L537.27,85.80 L547.28,84.85 L557.30,84.02 L567.32,83.24 L577.33,82.50 L587.35,81.76 L597.37,81.02 L607.38,80.30 L617.40,79.63 L627.42,79.02 L637.43,78.49 L647.45,78.03 L657.47,77.62 L667.48,77.26 L677.50,76.96" stroke="#555" stroke-width="0.85" fill="none" stroke-linejoin="round" opacity="1"/><circle cx="677.50" cy="66.00" r="3.6" fill="#000"/><circle cx="667.48" cy="70.36" r="3.6" fill="#000"/><circle cx="657.47" cy="71.54" r="3.6" fill="#000"/><circle cx="647.45" cy="72.91" r="3.6" fill="#000"/><circle cx="637.43" cy="74.25" r="3.6" fill="#000"/><circle cx="627.42" cy="75.39" r="3.6" fill="#000"/><circle cx="617.40" cy="76.37" r="3.6" fill="#000"/><circle cx="607.38" cy="77.10" r="3.6" fill="#000"/><circle cx="597.37" cy="77.78" r="3.6" fill="#000"/><circle cx="587.35" cy="78.60" r="3.6" fill="#000"/><circle cx="577.33" cy="79.31" r="3.6" fill="#000"/><circle cx="567.32" cy="79.77" r="3.6" fill="#000"/><circle cx="557.30" cy="80.14" r="3.6" fill="#000"/><circle cx="547.28" cy="80.44" r="3.6" fill="#000"/><circle cx="537.27" cy="80.73" r="3.6" fill="#000"/><circle cx="527.25" cy="81.08" r="3.6" fill="#000"/><circle cx="517.23" cy="82.26" r="3.6" fill="#000"/><circle cx="507.22" cy="82.97" r="3.6" fill="#000"/><circle cx="497.20" cy="84.26" r="3.6" fill="#000"/><circle cx="487.18" cy="85.56" r="3.6" fill="#000"/><circle cx="477.17" cy="86.74" r="3.6" fill="#000"/><circle cx="467.15" cy="88.15" r="3.6" fill="#000"/><circle cx="457.13" cy="89.92" r="3.6" fill="#000"/><circle cx="447.12" cy="92.40" r="3.6" fill="#000"/><circle cx="437.10" cy="94.87" r="3.6" fill="#000"/><circle cx="427.08" cy="98.41" r="3.6" fill="#000"/><circle cx="417.07" cy="103.47" r="3.6" fill="#000"/><circle cx="407.05" cy="111.37" r="3.6" fill="#000"/><circle cx="397.03" cy="120.33" r="3.6" fill="#000"/><circle cx="387.02" cy="135.53" r="3.6" fill="#000"/><circle cx="377.00" cy="161.69" r="3.6" fill="#000"/><circle cx="366.98" cy="200.23" r="3.6" fill="#000"/><circle cx="356.97" cy="245.95" r="3.6" fill="#000"/><circle cx="346.95" cy="290.50" r="3.6" fill="#000"/><circle cx="336.93" cy="323.62" r="3.6" fill="#000"/><circle cx="326.92" cy="348.25" r="3.6" fill="#000"/><circle cx="316.90" cy="366.04" r="3.6" fill="#000"/><circle cx="306.88" cy="379.71" r="3.6" fill="#000"/><circle cx="296.87" cy="389.61" r="3.6" fill="#000"/><circle cx="286.85" cy="396.33" r="3.6" fill="#000"/><circle cx="276.83" cy="401.75" r="3.6" fill="#000"/><circle cx="266.82" cy="407.17" r="3.6" fill="#000"/><circle cx="256.80" cy="410.00" r="3.6" fill="#000"/><circle cx="246.78" cy="412.95" r="3.6" fill="#000"/><circle cx="236.77" cy="415.42" r="3.6" fill="#000"/><circle cx="226.75" cy="417.19" r="3.6" fill="#000"/><circle cx="216.73" cy="418.60" r="3.6" fill="#000"/><circle cx="206.72" cy="419.55" r="3.6" fill="#000"/><circle cx="196.70" cy="420.38" r="3.6" fill="#000"/><circle cx="186.68" cy="421.16" r="3.6" fill="#000"/><circle cx="176.67" cy="421.90" r="3.6" fill="#000"/><circle cx="166.65" cy="422.64" r="3.6" fill="#000"/><circle cx="156.63" cy="423.38" r="3.6" fill="#000"/><circle cx="146.62" cy="424.10" r="3.6" fill="#000"/><circle cx="136.60" cy="424.77" r="3.6" fill="#000"/><circle cx="126.58" cy="425.38" r="3.6" fill="#000"/><circle cx="116.57" cy="425.91" r="3.6" fill="#000"/><circle cx="106.55" cy="426.37" r="3.6" fill="#000"/><circle cx="96.53" cy="426.78" r="3.6" fill="#000"/><circle cx="86.52" cy="427.14" r="3.6" fill="#000"/><circle cx="76.50" cy="427.44" r="3.6" fill="#000"/><circle cx="76.50" cy="438.40" r="3.6" fill="#000"/><circle cx="86.52" cy="434.04" r="3.6" fill="#000"/><circle cx="96.53" cy="432.86" r="3.6" fill="#000"/><circle cx="106.55" cy="431.49" r="3.6" fill="#000"/><circle cx="116.57" cy="430.15" r="3.6" fill="#000"/><circle cx="126.58" cy="429.01" r="3.6" fill="#000"/><circle cx="136.60" cy="428.03" r="3.6" fill="#000"/><circle cx="146.62" cy="427.30" r="3.6" fill="#000"/><circle cx="156.63" cy="426.62" r="3.6" fill="#000"/><circle cx="166.65" cy="425.80" r="3.6" fill="#000"/><circle cx="176.67" cy="425.09" r="3.6" fill="#000"/><circle cx="186.68" cy="424.63" r="3.6" fill="#000"/><circle cx="196.70" cy="424.26" r="3.6" fill="#000"/><circle cx="206.72" cy="423.96" r="3.6" fill="#000"/><circle cx="216.73" cy="423.67" r="3.6" fill="#000"/><circle cx="226.75" cy="423.32" r="3.6" fill="#000"/><circle cx="236.77" cy="422.14" r="3.6" fill="#000"/><circle cx="246.78" cy="421.43" r="3.6" fill="#000"/><circle cx="256.80" cy="420.14" r="3.6" fill="#000"/><circle cx="266.82" cy="418.84" r="3.6" fill="#000"/><circle cx="276.83" cy="417.66" r="3.6" fill="#000"/><circle cx="286.85" cy="416.25" r="3.6" fill="#000"/><circle cx="296.87" cy="414.48" r="3.6" fill="#000"/><circle cx="306.88" cy="412.00" r="3.6" fill="#000"/><circle cx="316.90" cy="409.53" r="3.6" fill="#000"/><circle cx="326.92" cy="405.99" r="3.6" fill="#000"/><circle cx="336.93" cy="400.93" r="3.6" fill="#000"/><circle cx="346.95" cy="393.03" r="3.6" fill="#000"/><circle cx="356.97" cy="384.07" r="3.6" fill="#000"/><circle cx="366.98" cy="368.87" r="3.6" fill="#000"/><circle cx="377.00" cy="342.71" r="3.6" fill="#000"/><circle cx="387.02" cy="304.17" r="3.6" fill="#000"/><circle cx="397.03" cy="258.45" r="3.6" fill="#000"/><circle cx="407.05" cy="213.90" r="3.6" fill="#000"/><circle cx="417.07" cy="180.78" r="3.6" fill="#000"/><circle cx="427.08" cy="156.15" r="3.6" fill="#000"/><circle cx="437.10" cy="138.36" r="3.6" fill="#000"/><circle cx="447.12" cy="124.69" r="3.6" fill="#000"/><circle cx="457.13" cy="114.79" r="3.6" fill="#000"/><circle cx="467.15" cy="108.07" r="3.6" fill="#000"/><circle cx="477.17" cy="102.65" r="3.6" fill="#000"/><circle cx="487.18" cy="97.23" r="3.6" fill="#000"/><circle cx="497.20" cy="94.40" r="3.6" fill="#000"/><circle cx="507.22" cy="91.45" r="3.6" fill="#000"/><circle cx="517.23" cy="88.98" r="3.6" fill="#000"/><circle cx="527.25" cy="87.21" r="3.6" fill="#000"/><circle cx="537.27" cy="85.80" r="3.6" fill="#000"/><circle cx="547.28" cy="84.85" r="3.6" fill="#000"/><circle cx="557.30" cy="84.02" r="3.6" fill="#000"/><circle cx="567.32" cy="83.24" r="3.6" fill="#000"/><circle cx="577.33" cy="82.50" r="3.6" fill="#000"/><circle cx="587.35" cy="81.76" r="3.6" fill="#000"/><circle cx="597.37" cy="81.02" r="3.6" fill="#000"/><circle cx="607.38" cy="80.30" r="3.6" fill="#000"/><circle cx="617.40" cy="79.63" r="3.6" fill="#000"/><circle cx="627.42" cy="79.02" r="3.6" fill="#000"/><circle cx="637.43" cy="78.49" r="3.6" fill="#000"/><circle cx="647.45" cy="78.03" r="3.6" fill="#000"/><circle cx="657.47" cy="77.62" r="3.6" fill="#000"/><circle cx="667.48" cy="77.26" r="3.6" fill="#000"/><circle cx="677.50" cy="76.96" r="3.6" fill="#000"/><rect x="76.5" y="16.5" width="601.0" height="471.60" fill="none" stroke="#a6a6a6" stroke-width="1"/><text x="74.10" y="507.9" font-family="'Liberation Sans', sans-serif" font-size="17" text-anchor="middle" fill="#000">-1500</text><text x="174.10" y="507.9" font-family="'Liberation Sans', sans-serif" font-size="17" text-anchor="middle" fill="#000">-1000</text><text x="273.60" y="507.9" font-family="'Liberation Sans', sans-serif" font-size="17" text-anchor="middle" fill="#000">-500</text><text x="376.90" y="507.9" font-family="'Liberation Sans', sans-serif" font-size="17" text-anchor="middle" fill="#000">0</text><text x="476.90" y="507.9" font-family="'Liberation Sans', sans-serif" font-size="17" text-anchor="middle" fill="#000">500</text><text x="576.90" y="507.9" font-family="'Liberation Sans', sans-serif" font-size="17" text-anchor="middle" fill="#000">1000</text><text x="677.90" y="507.9" font-family="'Liberation Sans', sans-serif" font-size="17" text-anchor="middle" fill="#000">1500</text><text x="70.5" y="492.10" font-family="'Liberation Sans', sans-serif" font-size="17" text-anchor="end" fill="#000">-2</text><text x="70.5" y="433.10" font-family="'Liberation Sans', sans-serif" font-size="17" text-anchor="end" fill="#000">-1.5</text><text x="70.5" y="373.80" font-family="'Liberation Sans', sans-serif" font-size="17" text-anchor="end" fill="#000">-1</text><text x="70.5" y="314.80" font-family="'Liberation Sans', sans-serif" font-size="17" text-anchor="end" fill="#000">-0.5</text><text x="70.5" y="256.70" font-family="'Liberation Sans', sans-serif" font-size="17" text-anchor="end" fill="#000">0</text><text x="70.5" y="196.90" font-family="'Liberation Sans', sans-serif" font-size="17" text-anchor="end" fill="#000">0.5</text><text x="70.5" y="137.60" font-family="'Liberation Sans', sans-serif" font-size="17" text-anchor="end" fill="#000">1</text><text x="70.5" y="78.70" font-family="'Liberation Sans', sans-serif" font-size="17" text-anchor="end" fill="#000">1.5</text><text x="70.5" y="20.80" font-family="'Liberation Sans', sans-serif" font-size="17" text-anchor="end" fill="#000">2</text><text x="375.3" y="531.7" font-family="'Liberation Sans', sans-serif" font-size="17" letter-spacing="0.5" text-anchor="middle" fill="#000">H/(A/m)</text><text transform="translate(24.8,252.4) rotate(-90)" x="0" y="0" font-family="'Liberation Sans', sans-serif" font-size="17" letter-spacing="1" text-anchor="middle" fill="#000">B/T</text><rect x="119.5" y="56.5" width="208.0" height="160.0" fill="#fff" stroke="#a6a6a6" stroke-width="1"/><path d="M130.5,71.5H185.5" stroke="#8fe88f" stroke-width="1"/><circle cx="158.7" cy="72.2" r="3.6" fill="#0aee0a"/><text x="192.2" y="78.10" font-family="'Liberation Sans', sans-serif" font-size="17" letter-spacing="0.25" fill="#000">GA</text><path d="M130.5,97.5H166.5M178,97.5H185.5" stroke="#dc8ae8" stroke-width="1"/><text x="192.2" y="103.20" font-family="'Liberation Sans', sans-serif" font-size="17" letter-spacing="0.25" fill="#000">PSO</text><circle cx="158.7" cy="123.3" r="3.6" fill="#0000f0"/><text x="192.2" y="129.30" font-family="'Liberation Sans', sans-serif" font-size="17" letter-spacing="0.25" fill="#000">BBO</text><path d="M130.5,148.5H185.5" stroke="#e87878" stroke-width="1"/><text x="192.2" y="155.10" font-family="'Liberation Sans', sans-serif" font-size="17" letter-spacing="0.25" fill="#000">IBBO</text><path d="M130.5,173.5H185.5" stroke="#555" stroke-width="1"/><text x="192.2" y="180.80" font-family="'Liberation Sans', sans-serif" font-size="17" letter-spacing="0.25" fill="#000">Theoretical data</text><path d="M130.5,199.5H185.5" stroke="#666" stroke-width="1"/><circle cx="158.7" cy="200.2" r="3.6" fill="#000"/><text x="192.2" y="205.30" font-family="'Liberation Sans', sans-serif" font-size="17" letter-spacing="0.25" fill="#000">DE</text></svg>
</body></html>
